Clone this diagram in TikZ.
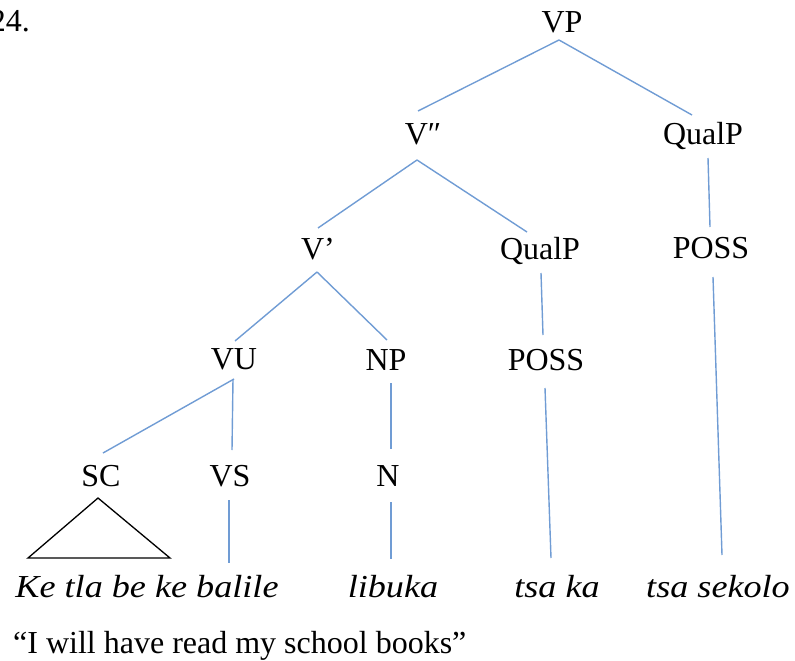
\documentclass[tikz,border=0pt]{standalone}
\usepackage{fontspec}
\usepackage{graphicx}
\setmainfont{Liberation Serif}
\definecolor{branch}{RGB}{112,156,212}
\tikzset{
  lab/.style={inner sep=0pt, anchor=base, font=\fontsize{32}{38}\selectfont},
  gloss/.style={inner sep=0pt, anchor=base, font=\fontsize{32}{38}\selectfont\itshape},
  edge/.style={draw=branch, line width=1.4pt},
  roof/.style={draw=black, line width=1.3pt, line join=miter},
}
\newcommand{\wide}[1]{\scalebox{1.13}[1]{#1}}
\begin{document}
\begin{tikzpicture}[x=1pt, y=-1pt]
\useasboundingbox (0,0) rectangle (795,661);

% example number
\node[lab, anchor=base east] (num) at (30,32) {24.};

% category labels
\node[lab] (vp)   at (562,33)  {VP};
\node[lab] (vpp)  at (423,144) {V″};
\node[lab] (q1)   at (703,144) {QualP};
\node[lab] (vbar) at (318,259) {V’};
\node[lab] (q2)   at (540,259) {QualP};
\node[lab] (p1)   at (711,258) {POSS};
\node[lab] (vu)   at (234,369) {VU};
\node[lab] (np)   at (386,370) {NP};
\node[lab] (p2)   at (546,370) {POSS};
\node[lab] (sc)   at (101,486) {SC};
\node[lab] (vs)   at (230,486) {VS};
\node[lab] (n)    at (388,486) {N};

% Sesotho words
\node[gloss] (w1) at (147,597) {\wide{Ke tla be ke balile}};
\node[gloss] (w2) at (393,597) {\wide{libuka}};
\node[gloss] (w3) at (557,597) {\wide{tsa ka}};
\node[gloss] (w4) at (718,597) {\wide{tsa sekolo}};

% free translation
\node[lab, anchor=base west] (tr) at (13,653) {“I will have read my school books”};

% branches
\draw[edge] ([shift={(-3,7)}]vp.base)    -- ([shift={(-5,-33)}]vpp.base);
\draw[edge] ([shift={(-3,7)}]vp.base)    -- ([shift={(-11,-29)}]q1.base);
\draw[edge] ([shift={(-6,16)}]vpp.base)  -- ([shift={(0,-31)}]vbar.base);
\draw[edge] ([shift={(-6,16)}]vpp.base)  -- ([shift={(-13,-27)}]q2.base);
\draw[edge] ([shift={(5,14)}]q1.base)    -- ([shift={(-1,-31)}]p1.base);
\draw[edge] ([shift={(-1,13)}]vbar.base) -- ([shift={(1,-28)}]vu.base);
\draw[edge] ([shift={(-1,13)}]vbar.base) -- ([shift={(1,-30)}]np.base);
\draw[edge] ([shift={(1,14)}]q2.base)    -- ([shift={(-3,-35)}]p2.base);
\draw[edge] ([shift={(0,10)}]vu.base)    -- ([shift={(2,-33)}]sc.base);
\draw[edge] ([shift={(-1,10)}]vu.base)   -- ([shift={(2,-36)}]vs.base);
\draw[edge] ([shift={(5,13)}]np.base)    -- ([shift={(3,-37)}]n.base);
\draw[edge] ([shift={(-1,14)}]vs.base)   -- ([shift={(82,-34)}]w1.base);
\draw[edge] ([shift={(3,16)}]n.base)     -- ([shift={(-2,-38)}]w2.base);
\draw[edge] ([shift={(-1,18)}]p2.base)   -- ([shift={(-6,-39)}]w3.base);
\draw[edge] ([shift={(2,19)}]p1.base)    -- ([shift={(4,-42)}]w4.base);

% roof over the unanalysed SC constituent
\draw[roof] ([shift={(-3,12)}]sc.base) -- ([shift={(-73,72)}]sc.base)
  -- ([shift={(69,72)}]sc.base) -- cycle;
\end{tikzpicture}
\end{document}
